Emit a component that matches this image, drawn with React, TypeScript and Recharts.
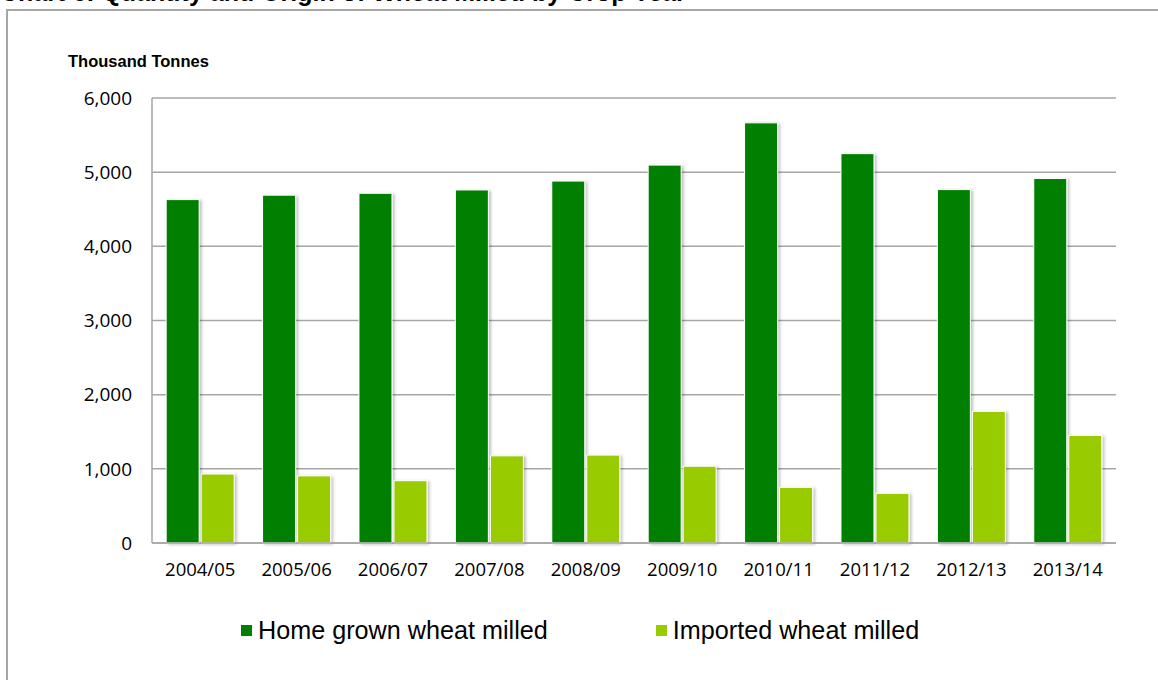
import { Bar, BarChart, CartesianGrid, Legend, XAxis, YAxis } from 'recharts';

const years = ['2004/05', '2005/06', '2006/07', '2007/08', '2008/09', '2009/10', '2010/11', '2011/12', '2012/13', '2013/14'];
const homeGrown = [4630, 4690, 4715, 4760, 4880, 5095, 5665, 5250, 4765, 4915];
const imported = [930, 905, 840, 1175, 1185, 1035, 750, 670, 1775, 1450];
const yTicks = [0, 1000, 2000, 3000, 4000, 5000, 6000];

const data = years.map((year, i) => ({ year, home: homeGrown[i], imported: imported[i] }));

const fmt = (v: number) => v.toLocaleString('en-US');

const LegendContent = (props: any) => {
  const items = props.payload || [];
  return (
    <div style={{ display: 'flex', alignItems: 'center', paddingLeft: 241, fontFamily: '"Liberation Sans", Arial, sans-serif', fontSize: 25.2, color: '#000' }}>
      {items.map((item: any, i: number) => (
        <div key={item.value} style={{ display: 'flex', alignItems: 'center', marginLeft: i === 0 ? 0 : 108 }}>
          <span style={{ display: 'inline-block', width: 11, height: 11, background: item.color, marginRight: 6 }} />
          <span>{item.value}</span>
        </div>
      ))}
    </div>
  );
};

export default function App() {
  return (
    <div style={{ position: 'absolute', left: 0, top: 0, width: 1158, height: 680, overflow: 'hidden', background: '#fff' }}>
      {/* title is cropped at the top edge in the source image */}
      <div
        style={{
          position: 'absolute',
          left: 0,
          top: -20,
          fontFamily: '"Liberation Sans", Arial, sans-serif',
          fontWeight: 'bold',
          fontSize: 25,
          lineHeight: '25px',
          whiteSpace: 'nowrap',
        }}
      >
        Chart 6: Quantity and Origin of Wheat Milled by Crop Year
      </div>
      <div style={{ position: 'absolute', left: 6, top: 9, width: 1250, height: 760, border: '2px solid #a6a6a6' }} />
      <div
        style={{
          position: 'absolute',
          left: 68,
          top: 53,
          fontFamily: '"Liberation Sans", Arial, sans-serif',
          fontWeight: 'bold',
          fontSize: 16.5,
          lineHeight: '17px',
          whiteSpace: 'nowrap',
        }}
      >
        Thousand Tonnes
      </div>
      <BarChart
        width={1158}
        height={680}
        data={data}
        margin={{ top: 98, right: 42, bottom: 77, left: 0 }}
        barCategoryGap="14.7%"
        barGap={2}
        style={{ position: 'absolute', left: 0, top: 0 }}
      >
        <defs>
          <filter id="barShadow" x="-20%" y="-5%" width="150%" height="115%">
            <feDropShadow dx="2" dy="1" stdDeviation="1.5" floodColor="#000" floodOpacity="0.25" />
          </filter>
        </defs>
        <CartesianGrid vertical={false} stroke="#a6a6a6" strokeWidth={1.5} />
        <XAxis
          dataKey="year"
          height={60}
          tickLine={false}
          tickSize={0}
          tickMargin={20}
          axisLine={{ stroke: '#a6a6a6', strokeWidth: 1.5 }}
          tick={{ fill: '#000', fontSize: 18.5, fontFamily: '"Open Sans", sans-serif' }}
          interval={0}
        />
        <YAxis
          width={152}
          domain={[0, 6000]}
          ticks={yTicks}
          tickFormatter={fmt}
          tickLine={false}
          tickSize={0}
          tickMargin={20}
          axisLine={{ stroke: '#a6a6a6', strokeWidth: 1.5 }}
          tick={{ fill: '#000', fontSize: 19, fontFamily: '"Open Sans", sans-serif' }}
        />
        <Legend verticalAlign="middle" content={LegendContent} wrapperStyle={{ top: 616, left: 0, width: 1158 }} />
        <Bar dataKey="home" name="Home grown wheat milled" fill="#007f00" stroke="#ffffff" strokeWidth={1} filter="url(#barShadow)" isAnimationActive={false} />
        <Bar dataKey="imported" name="Imported wheat milled" fill="#99cc00" stroke="#ffffff" strokeWidth={1} filter="url(#barShadow)" isAnimationActive={false} />
      </BarChart>
    </div>
  );
}
